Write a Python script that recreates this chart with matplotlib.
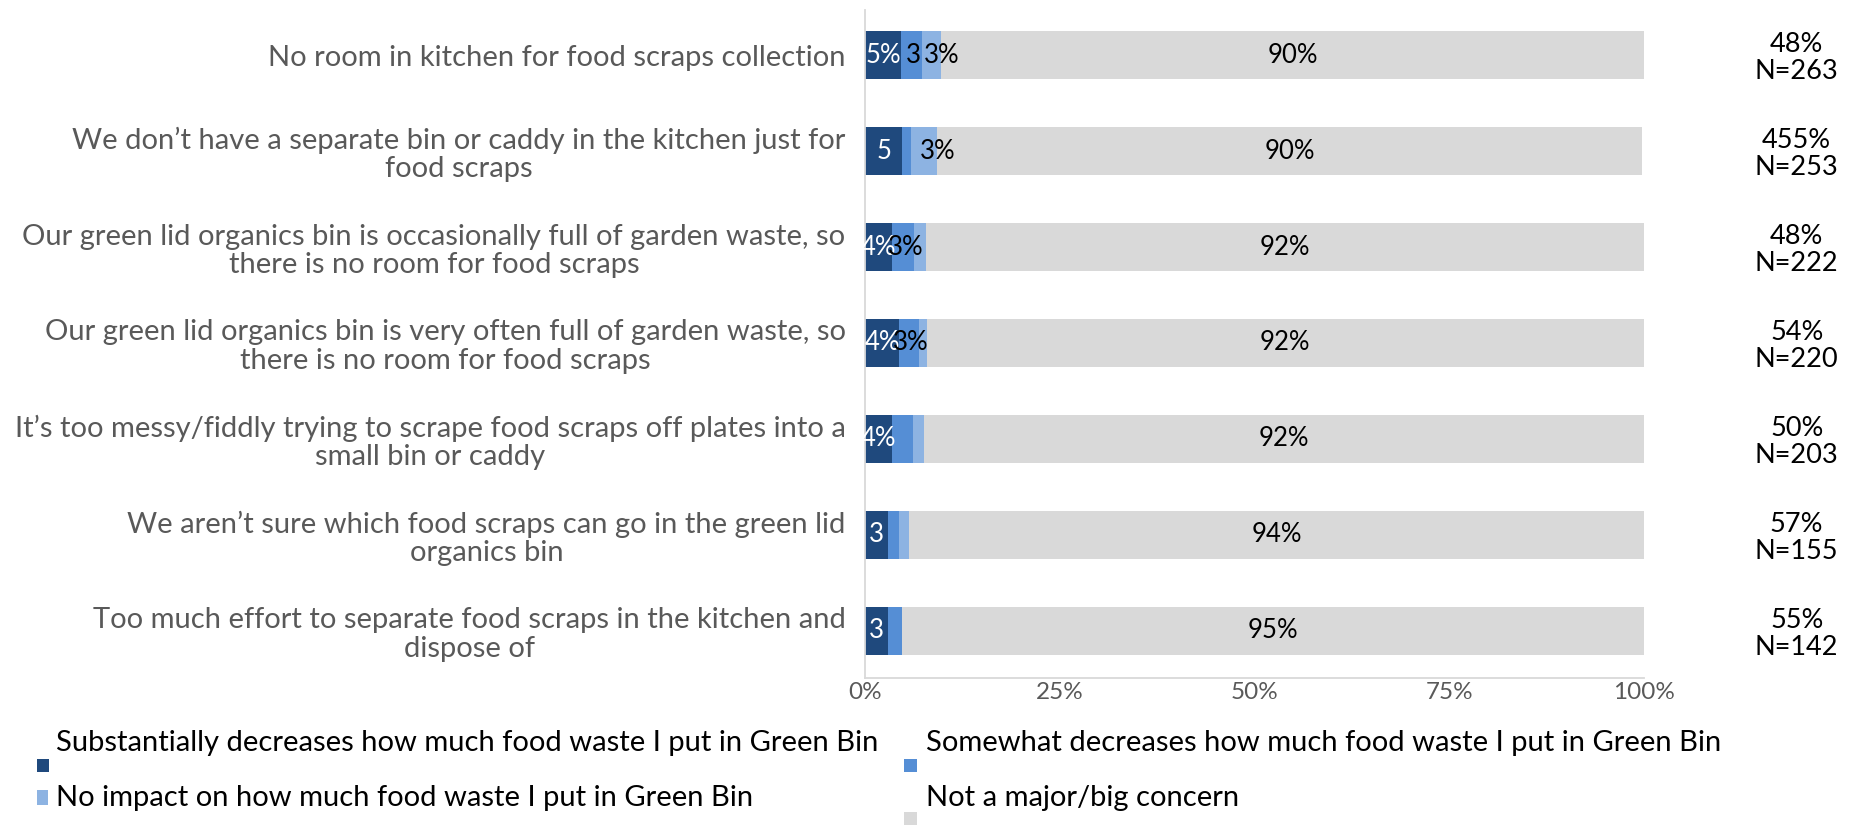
import matplotlib
matplotlib.use("Agg")
import matplotlib.pyplot as plt
from matplotlib.patches import Rectangle

# Categories (top to bottom)
categories = [
    "No room in kitchen for food scraps collection",
    "We don\u2019t have a separate bin or caddy in the kitchen just for\nfood scraps",
    "Our green lid organics bin is occasionally full of garden waste, so\nthere is no room for food scraps",
    "Our green lid organics bin is very often full of garden waste, so\nthere is no room for food scraps",
    "It\u2019s too messy/fiddly trying to scrape food scraps off plates into a\nsmall bin or caddy",
    "We aren\u2019t sure which food scraps can go in the green lid\norganics bin",
    "Too much effort to separate food scraps in the kitchen and\ndispose of",
]

series_names = [
    "Substantially decreases how much food waste I put in Green Bin",
    "Somewhat decreases how much food waste I put in Green Bin",
    "No impact on how much food waste I put in Green Bin",
    "Not a major/big concern",
]

# Shares (%) per series
substantially = [4.6, 4.8, 3.5, 4.4, 3.5, 3.0, 3.0]
somewhat = [2.7, 1.1, 2.8, 2.5, 2.6, 1.4, 1.8]
no_impact = [2.5, 3.4, 1.5, 1.0, 1.5, 1.3, 0.0]
not_concern = [90.2, 90.4, 92.2, 92.1, 92.4, 94.3, 95.2]

# Data label text shown on each segment
substantially_labels = ["5%", "5", "4%", "4%", "4%", "3", "3"]
somewhat_labels = ["3", "", "3%", "3%", "", "", ""]
no_impact_labels = ["3%", "3%", "", "", "", "", ""]
not_concern_labels = ["90%", "90%", "92%", "92%", "92%", "94%", "95%"]

# Right-hand summary column
summary_pct = ["48%", "455%", "48%", "54%", "50%", "57%", "55%"]
summary_n = ["N=263", "N=253", "N=222", "N=220", "N=203", "N=155", "N=142"]

x_ticks = [0, 25, 50, 75, 100]
x_tick_labels = ["0%", "25%", "50%", "75%", "100%"]

colors = ["#1F497D", "#558ED5", "#8DB3E2", "#D9D9D9"]
label_colors = ["white", "black", "black", "black"]
# where each series' label sits along its segment (0 = start, 0.5 = middle, 1 = end)
label_anchor = [0.5, 0.6, 1.0, 0.5]

FONT = "Lato"
plt.rcParams["font.family"] = [FONT, "DejaVu Sans"]

W, H = 1856, 825
fig = plt.figure(figsize=(W / 100, H / 100), dpi=100)
ax = fig.add_axes([865 / W, 1 - 678 / H, (1644 - 865) / W, (678 - 10) / H])

ypos = list(range(len(categories)))
series = [substantially, somewhat, no_impact, not_concern]
labels = [substantially_labels, somewhat_labels, no_impact_labels, not_concern_labels]

left = [0.0] * len(categories)
for vals, col, labs, lcol, anc in zip(series, colors, labels, label_colors, label_anchor):
    ax.barh(ypos, vals, left=left, height=0.505, color=col, linewidth=0, zorder=2)
    for i, (v, lab) in enumerate(zip(vals, labs)):
        if lab:
            ax.text(left[i] + v * anc, ypos[i], lab, ha="center", va="center",
                    color=lcol, fontsize=18.5, zorder=4)
    left = [l + v for l, v in zip(left, vals)]

ax.set_xlim(0, 100)
ax.set_ylim(6.49, -0.469)
ax.set_yticks(ypos)
ax.set_yticklabels(categories, fontsize=21, color="#595959",
                   multialignment="center", linespacing=1.1)
ax.tick_params(axis="y", length=0, pad=14)
ax.set_xticks(x_ticks)
ax.set_xticklabels(x_tick_labels, fontsize=17.5, color="#595959")
ax.tick_params(axis="x", length=0, pad=3)

for s in ["top", "right"]:
    ax.spines[s].set_visible(False)
for s in ["left", "bottom"]:
    ax.spines[s].set_color("#D9D9D9")
    ax.spines[s].set_linewidth(1.3)

# Summary column to the right of the bars
for i in ypos:
    ax.text(119.6, ypos[i] + 0.03, summary_pct[i] + "\n" + summary_n[i],
            ha="center", va="center", fontsize=19.5, color="black",
            linespacing=1.1, clip_on=False)

# Legend drawn on the figure
def fx(x):
    return x / W


def fy(y):
    return 1 - y / H


legend_items = [
    # text x, text y, marker box (x0, y0, x1, y1)
    (56, 743, (37, 759, 49, 772)),
    (926, 743, (904, 759, 917, 772)),
    (56, 798, (37, 790, 48, 805)),
    (926, 798, (904, 812, 917, 825)),
]
for name, col, (tx, ty, (x0, y0, x1, y1)) in zip(series_names, colors, legend_items):
    fig.text(fx(tx), fy(ty), name, ha="left", va="center", fontsize=21, color="black")
    fig.patches.append(Rectangle((fx(x0), fy(y1)), fx(x1) - fx(x0), fy(y0) - fy(y1),
                                 transform=fig.transFigure, color=col, linewidth=0))

fig.savefig("out.png", dpi=100)
